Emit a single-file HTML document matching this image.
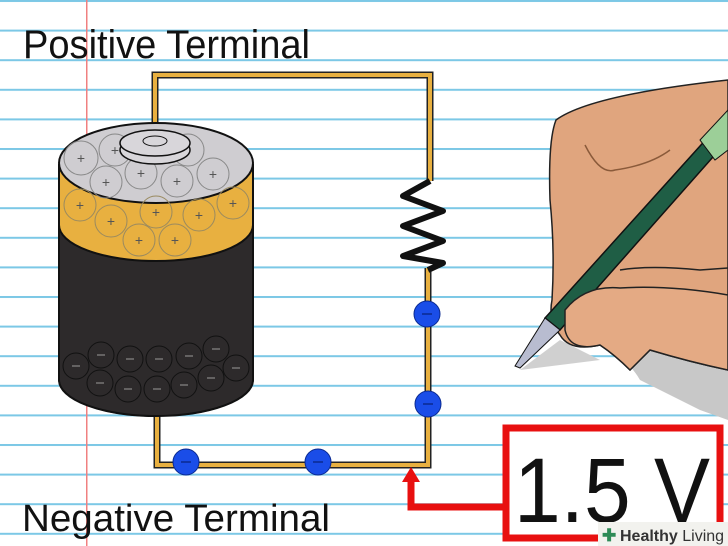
<!DOCTYPE html>
<html><head><style>html,body{margin:0;padding:0;background:#fff}svg{display:block}</style></head>
<body>
<svg width="728" height="546" viewBox="0 0 728 546" xmlns="http://www.w3.org/2000/svg">
<defs>
<pattern id="lines" width="728" height="29.6" patternUnits="userSpaceOnUse" y="0">
<rect x="0" y="0" width="728" height="2" fill="#7cc8e6"/>
</pattern>
</defs>
<rect width="728" height="546" fill="#fff"/>
<rect width="728" height="546" fill="url(#lines)"/>
<rect x="86" y="0" width="1.5" height="546" fill="#f08080"/>

<text x="23" y="58" font-family="Liberation Sans, sans-serif" font-size="40" textLength="287" lengthAdjust="spacingAndGlyphs" fill="#111">Positive Terminal</text>
<text x="22" y="531" font-family="Liberation Sans, sans-serif" font-size="38" textLength="308" lengthAdjust="spacingAndGlyphs" fill="#111">Negative Terminal</text>

<path d="M155,143 V75 H430 V181 M428,268 V465 H157 V412" fill="none" stroke="#222" stroke-width="7"/>
<path d="M155,143 V75 H430 V181 M428,268 V465 H157 V412" fill="none" stroke="#e8b040" stroke-width="4"/>
<polyline points="430,181 403,196 443,211 403,226 443,241 403,256 443,263 428,270" fill="none" stroke="#111" stroke-width="6" stroke-linejoin="round"/>

<path d="M59,165 V380 A97,36 0 0 0 253,380 V165 Z" fill="#2d2a2b" stroke="#111" stroke-width="2"/>
<path d="M59,165 V225 A97,36 0 0 0 253,225 V165 Z" fill="#e8b040" stroke="#111" stroke-width="2"/>
<ellipse cx="156" cy="163" rx="97" ry="40" fill="#cfcdd1" stroke="#111" stroke-width="2"/>
<g fill="none" stroke="#9a8a60" stroke-width="1">
<circle cx="80" cy="205" r="16"/><circle cx="111" cy="221" r="16"/><circle cx="139" cy="240" r="16"/><circle cx="156" cy="212" r="16"/><circle cx="175" cy="240" r="16"/><circle cx="199" cy="215" r="16"/><circle cx="233" cy="203" r="16"/>
</g>
<g fill="none" stroke="#888" stroke-width="1">
<circle cx="81" cy="158" r="17"/><circle cx="115" cy="150" r="16"/><circle cx="106" cy="182" r="16"/><circle cx="141" cy="173" r="16"/><circle cx="177" cy="181" r="16"/><circle cx="188" cy="150" r="16"/><circle cx="213" cy="174" r="16"/>
</g>
<ellipse cx="155" cy="150" rx="35" ry="14" fill="#d8d6da" stroke="#111" stroke-width="1.5"/>
<ellipse cx="155" cy="143" rx="35" ry="13" fill="#d8d6da" stroke="#111" stroke-width="1.5"/>
<ellipse cx="155" cy="141" rx="12" ry="5" fill="none" stroke="#111" stroke-width="1"/>
<g font-family="Liberation Sans, sans-serif" font-size="14" fill="#555" text-anchor="middle">
<text x="81" y="163">+</text><text x="115" y="155">+</text><text x="106" y="187">+</text><text x="141" y="178">+</text><text x="177" y="186">+</text><text x="213" y="179">+</text>
<text x="80" y="210">+</text><text x="111" y="226">+</text><text x="139" y="245">+</text><text x="156" y="217">+</text><text x="175" y="245">+</text><text x="199" y="220">+</text><text x="233" y="208">+</text>
</g>
<g fill="none" stroke="#111" stroke-width="1">
<circle cx="76" cy="366" r="13"/><circle cx="101" cy="355" r="13"/><circle cx="130" cy="359" r="13"/><circle cx="159" cy="359" r="13"/><circle cx="189" cy="356" r="13"/><circle cx="216" cy="349" r="13"/><circle cx="236" cy="368" r="13"/>
<circle cx="100" cy="383" r="13"/><circle cx="128" cy="389" r="13"/><circle cx="157" cy="389" r="13"/><circle cx="184" cy="385" r="13"/><circle cx="211" cy="378" r="13"/>
</g>
<g stroke="#888" stroke-width="1.2">
<line x1="72" y1="366" x2="80" y2="366"/><line x1="97" y1="355" x2="105" y2="355"/><line x1="126" y1="359" x2="134" y2="359"/><line x1="155" y1="359" x2="163" y2="359"/><line x1="185" y1="356" x2="193" y2="356"/><line x1="212" y1="349" x2="220" y2="349"/><line x1="232" y1="368" x2="240" y2="368"/>
<line x1="96" y1="383" x2="104" y2="383"/><line x1="124" y1="389" x2="132" y2="389"/><line x1="153" y1="389" x2="161" y2="389"/><line x1="180" y1="385" x2="188" y2="385"/><line x1="207" y1="378" x2="215" y2="378"/>
</g>
<path d="M59,380 A97,36 0 0 0 253,380" fill="none" stroke="#111" stroke-width="1.5"/>

<g fill="#1a4de8" stroke="#0a2a90" stroke-width="1">
<circle cx="427" cy="314" r="13"/><circle cx="428" cy="404" r="13"/><circle cx="186" cy="462" r="13"/><circle cx="318" cy="462" r="13"/>
</g>
<g stroke="#0a2a90" stroke-width="1.5">
<line x1="422" y1="314" x2="432" y2="314"/><line x1="423" y1="404" x2="433" y2="404"/><line x1="181" y1="462" x2="191" y2="462"/><line x1="313" y1="462" x2="323" y2="462"/>
</g>

<rect x="506" y="428" width="214" height="110" fill="#fff" stroke="#e81010" stroke-width="7"/>
<path d="M506,507 H411 V478" fill="none" stroke="#e81010" stroke-width="7"/>
<polygon points="402,482 420,482 411,467" fill="#e81010"/>
<text x="514" y="522" font-family="Liberation Sans, sans-serif" font-size="92" textLength="196" lengthAdjust="spacingAndGlyphs" fill="#111">1.5 V</text>
<rect x="598" y="522" width="130" height="24" fill="#f2f2ee"/>
<text x="602" y="541" font-family="Liberation Sans, sans-serif" font-size="17" fill="#2e8b57" font-weight="bold">✚</text>
<text x="620" y="541" font-family="Liberation Sans, sans-serif" font-size="16" fill="#333"><tspan font-weight="bold">Healthy</tspan> Living</text>

<path d="M560,330 Q620,345 640,380 L700,410 L728,420 V350 Z" fill="#c8c8c8"/>
<path d="M520,370 L560,340 L600,360 Z" fill="#d0d0d0"/>
<path d="M556,120 Q590,95 728,80 V370 Q690,362 650,350 Q640,360 630,370 Q615,355 600,345 Q570,352 560,335 Q548,320 552,300 Q555,250 550,200 Q548,140 556,120 Z" fill="#e0a57e" stroke="#222" stroke-width="1.5"/>
<path d="M585,145 Q600,175 615,170 Q650,165 670,150" fill="none" stroke="#8a5a3a" stroke-width="1.5"/>
<path d="M620,270 Q650,265 700,270 L728,268" fill="none" stroke="#222" stroke-width="1.5"/>
<polygon points="728,115 728,140 560,330 545,318" fill="#1f5e45" stroke="#111" stroke-width="1.5"/>
<polygon points="700,140 728,110 728,150 715,160" fill="#9ccf98" stroke="#111" stroke-width="1"/>
<polygon points="545,318 560,330 520,368 515,366" fill="#b8bcd0" stroke="#111" stroke-width="1"/>
<path d="M565,310 Q585,285 620,288 Q670,285 728,295 V370 Q690,362 650,350 Q640,360 630,370 Q615,355 600,345 Q570,352 565,330 Z" fill="#e4aa84" stroke="#222" stroke-width="1.5"/>
</svg>
</body></html>
